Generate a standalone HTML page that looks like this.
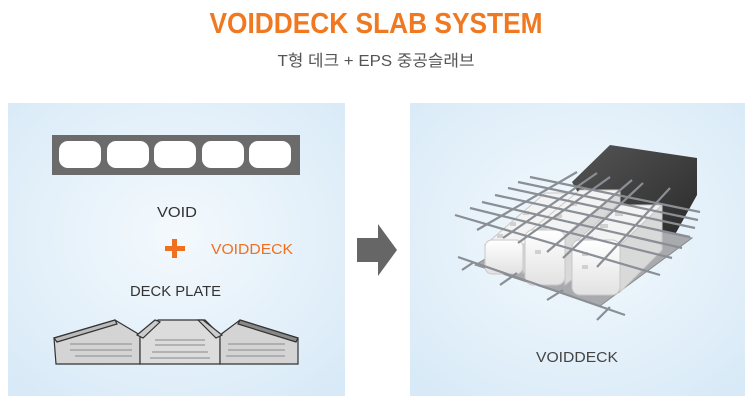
<!DOCTYPE html>
<html><head><meta charset="utf-8"><style>
html,body{margin:0;padding:0;background:#fff;width:752px;height:404px;overflow:hidden}
</style></head><body>
<svg width="752" height="404" viewBox="0 0 752 404" xmlns="http://www.w3.org/2000/svg">
<defs>
<radialGradient id="bg" cx="0.5" cy="0.45" r="0.7">
<stop offset="0" stop-color="#f4f9fd"/><stop offset="1" stop-color="#d8eaf7"/>
</radialGradient>
<linearGradient id="blk" x1="0" y1="0" x2="0" y2="1"><stop offset="0" stop-color="#fff"/><stop offset="1" stop-color="#e2e2e2"/></linearGradient>
<linearGradient id="dk" x1="0" y1="0" x2="1" y2="1"><stop offset="0" stop-color="#555"/><stop offset="1" stop-color="#2a2a2a"/></linearGradient>
</defs>
<text x="376" y="33" text-anchor="middle" font-family="Liberation Sans, sans-serif" font-weight="bold" font-size="29" fill="#f07820" textLength="333" lengthAdjust="spacingAndGlyphs">VOIDDECK SLAB SYSTEM</text>
<text x="376" y="66" text-anchor="middle" font-family="Liberation Sans, 'Noto Sans CJK KR', sans-serif" font-size="16" fill="#555" textLength="197" lengthAdjust="spacingAndGlyphs">T형 데크 + EPS 중공슬래브</text>
<rect x="8" y="103" width="337" height="293" fill="url(#bg)"/>
<rect x="410" y="103" width="335" height="293" fill="url(#bg)"/>
<!-- slab -->
<rect x="52" y="135" width="248" height="40" fill="#6b6b6b"/>
<g fill="#fff">
<rect x="59" y="141" width="42" height="27" rx="9"/>
<rect x="107" y="141" width="42" height="27" rx="9"/>
<rect x="154" y="141" width="42" height="27" rx="9"/>
<rect x="202" y="141" width="42" height="27" rx="9"/>
<rect x="249" y="141" width="42" height="27" rx="9"/>
</g>
<g font-family="Liberation Sans, sans-serif" font-size="15" fill="#333">
<text x="157" y="217" textLength="40" lengthAdjust="spacingAndGlyphs">VOID</text>
<text x="130" y="296" textLength="91" lengthAdjust="spacingAndGlyphs">DECK PLATE</text>
<text x="211" y="254" fill="#f07020" textLength="82" lengthAdjust="spacingAndGlyphs">VOIDDECK</text>
</g>
<rect x="165" y="246" width="20" height="5" fill="#f07020"/>
<rect x="172" y="239" width="5" height="19" fill="#f07020"/>
<!-- deck plate -->
<g stroke="#333" stroke-width="1.2">
<polygon points="54,338 115,320 140,335 140,364 56,364" fill="#d4d4d4"/>
<polygon points="140,335 158,320 205,320 220,335 220,364 140,364" fill="#dcdcdc"/>
<polygon points="220,335 240,320 298,338 298,364 220,364" fill="#d4d4d4"/>
<polygon points="54,338 115,320 117,324 57,342" fill="#bbb"/>
<polygon points="240,320 298,338 296,342 238,324" fill="#888"/>
<polygon points="137,335 155,320 160,322 143,338" fill="#ccc"/>
<polygon points="198,320 203,320 222,335 216,338" fill="#ccc"/>
</g>
<g stroke="#999" stroke-width="1.2">
<line x1="70" y1="344" x2="132" y2="344"/><line x1="70" y1="350" x2="132" y2="350"/><line x1="75" y1="356" x2="132" y2="356"/>
<line x1="155" y1="340" x2="205" y2="340"/><line x1="155" y1="345" x2="205" y2="345"/><line x1="152" y1="352" x2="208" y2="352"/><line x1="150" y1="358" x2="210" y2="358"/>
<line x1="228" y1="344" x2="285" y2="344"/><line x1="228" y1="350" x2="285" y2="350"/><line x1="226" y1="356" x2="285" y2="356"/>
</g>
<!-- arrow -->
<polygon points="357,238 378,238 378,224 397,250 378,276 378,262 357,262" fill="#666"/>
<!-- voiddeck 3d -->
<polygon points="610,145 697,158 697,195 672,240 600,232 572,182" fill="url(#dk)"/>
<polygon points="475,265 565,212 692,238 600,306" fill="#a8aaad" stroke="#8a8a8a"/>
<g stroke="#c8c8c8" stroke-width="1">
<polygon points="485,245 545,193 583,193 523,245" fill="#f3f3f3"/>
<polygon points="523,245 583,193 583,222 523,273" fill="#d9d9d9"/>
<rect x="485" y="240" width="38" height="34" rx="7" fill="url(#blk)"/>
<polygon points="525,235 580,190 620,190 565,235" fill="#f3f3f3"/>
<polygon points="565,235 620,190 620,240 565,285" fill="#d9d9d9"/>
<rect x="525" y="230" width="40" height="55" rx="8" fill="url(#blk)"/>
<polygon points="572,245 617,205 662,205 620,245" fill="#f3f3f3"/>
<polygon points="620,245 662,205 662,250 620,292" fill="#d9d9d9"/>
<rect x="572" y="240" width="48" height="55" rx="8" fill="url(#blk)"/>
</g>
<g fill="#d0d0d0">
<rect x="497" y="234" width="6" height="4"/><rect x="510" y="222" width="6" height="4"/><rect x="523" y="211" width="6" height="4"/>
<rect x="540" y="226" width="7" height="4"/><rect x="555" y="214" width="7" height="4"/><rect x="570" y="202" width="7" height="4"/>
<rect x="585" y="236" width="8" height="4"/><rect x="600" y="224" width="8" height="4"/><rect x="615" y="212" width="8" height="4"/>
<rect x="582" y="252" width="6" height="4"/><rect x="582" y="265" width="6" height="4"/><rect x="535" y="250" width="6" height="4"/>
</g>
<g stroke="#8a8e95" stroke-width="2.2">
<line x1="530" y1="177" x2="700" y2="212"/>
<line x1="518" y1="182" x2="698" y2="220"/>
<line x1="508" y1="188" x2="695" y2="228"/>
<line x1="495" y1="195" x2="690" y2="237"/>
<line x1="482" y1="202" x2="682" y2="248"/>
<line x1="470" y1="208" x2="672" y2="258"/>
<line x1="455" y1="215" x2="660" y2="275"/>
<line x1="458" y1="257" x2="625" y2="315"/>
<line x1="477" y1="230" x2="577" y2="172"/>
<line x1="503" y1="238" x2="597" y2="173"/>
<line x1="518" y1="243" x2="610" y2="177"/>
<line x1="547" y1="252" x2="632" y2="180"/>
<line x1="563" y1="258" x2="643" y2="183"/>
<line x1="597" y1="267" x2="670" y2="188"/>
<line x1="462" y1="270" x2="474" y2="262"/>
<line x1="500" y1="285" x2="517" y2="273"/>
<line x1="547" y1="300" x2="563" y2="290"/>
<line x1="597" y1="320" x2="610" y2="307"/>
</g>
<text x="577" y="362" text-anchor="middle" font-family="Liberation Sans, sans-serif" font-size="15" fill="#444" textLength="82" lengthAdjust="spacingAndGlyphs">VOIDDECK</text>
</svg>
</body></html>
